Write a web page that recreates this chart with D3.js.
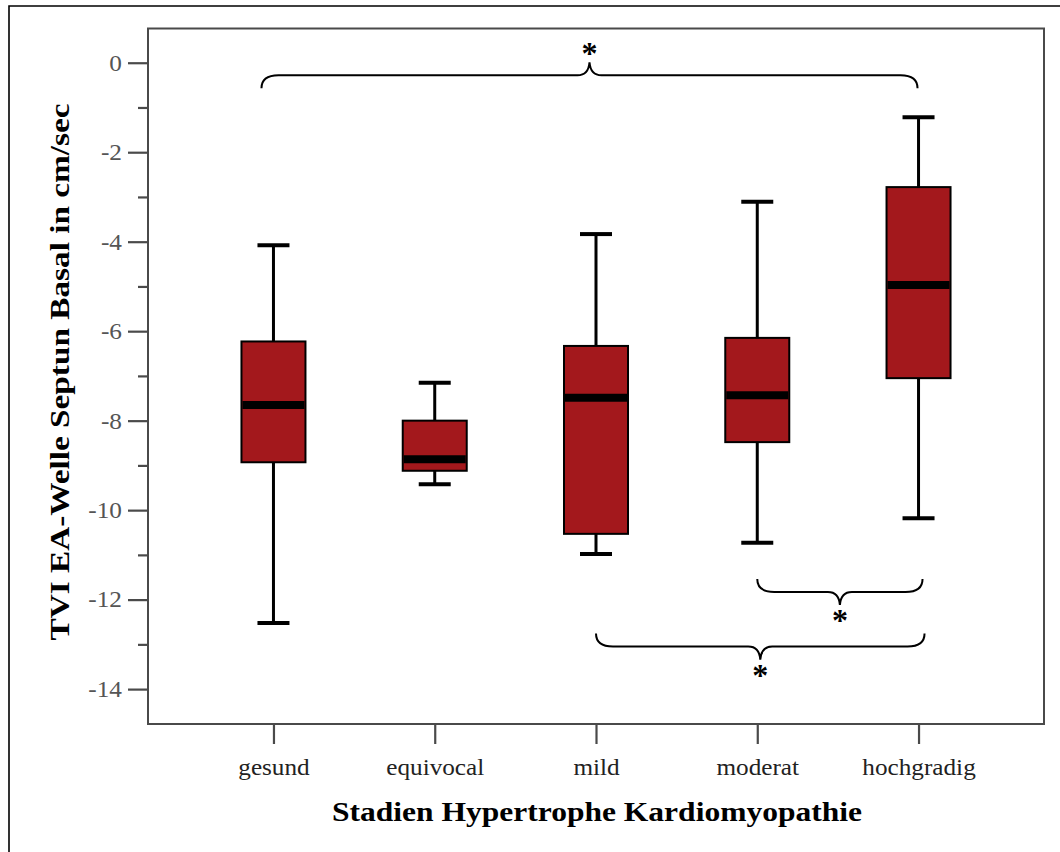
<!DOCTYPE html>
<html>
<head>
<meta charset="utf-8">
<script src="https://cdn.jsdelivr.net/npm/d3@7/dist/d3.min.js"></script>
<style>
  html, body { margin: 0; padding: 0; background: #fff; }
  svg { display: block; }
  text { font-family: "Liberation Serif", "Times New Roman", serif; }
</style>
</head>
<body>
<svg id="chart" width="1060" height="852"></svg>
<script>
// Groups (stages of hypertrophic cardiomyopathy)
const categories = ["gesund", "equivocal", "mild", "moderat", "hochgradig"];
// Box-plot summaries per group (cm/sec)
const whiskerHigh = [-4.08, -7.15, -3.83, -3.11, -1.22];
const q3          = [-6.23, -8.00, -6.33, -6.15, -2.78];
const median      = [-7.65, -8.86, -7.49, -7.43, -4.97];
const q1          = [-8.93, -9.12, -10.53, -8.48, -7.05];
const whiskerLow  = [-12.52, -9.42, -10.98, -10.73, -10.18];
// Axis ticks
const majorTicks = [0, -2, -4, -6, -8, -10, -12, -14];
const minorTicks = [-1, -3, -5, -7, -9, -11, -13];
// Significance brackets: group span and level of the bracket line
const brackets = [
  { from: "gesund", to: "hochgradig", level: -0.28, dir: "up",   dx0: -12, dx1: -1 },
  { from: "moderat", to: "hochgradig", level: -11.83, dir: "down", dx0: 0, dx1: 4 },
  { from: "mild", to: "hochgradig", level: -13.05, dir: "down", dx0: 0, dx1: 6 }
];

const svg = d3.select("#chart");
const plotLeft = 148, plotRight = 1044, plotTop = 28.5, plotBottom = 724;

const x = d3.scalePoint().domain(categories).range([plotLeft, plotRight]).padding(0.778);
const y = d3.scaleLinear().domain([-14.78, 0.765]).range([plotBottom, plotTop]);

// outer figure frame (top and left edges)
svg.append("path")
  .attr("d", `M9,852 L9,6 L1060,6`)
  .attr("fill", "none").attr("stroke", "#000").attr("stroke-width", 1.6);

// plot frame
svg.append("rect")
  .attr("x", plotLeft).attr("y", plotTop)
  .attr("width", plotRight - plotLeft).attr("height", plotBottom - plotTop)
  .attr("fill", "#fff").attr("stroke", "#4a4a4a").attr("stroke-width", 2);

// y axis
const yAxis = svg.append("g").attr("transform", `translate(${plotLeft},0)`)
  .call(d3.axisLeft(y).tickValues(majorTicks).tickSize(20).tickPadding(6).tickFormat(d3.format("d")));
yAxis.select(".domain").remove();
yAxis.selectAll(".tick line").attr("stroke", "#4a4a4a").attr("stroke-width", 2.2);
yAxis.selectAll(".tick text")
  .attr("font-size", 23).attr("fill", "#555").attr("font-family", "Liberation Serif")
  .text(d => d === 0 ? "0" : "-" + Math.abs(d))
  .each(function () {
    const w = this.getComputedTextLength();
    d3.select(this).attr("textLength", w * 1.1).attr("lengthAdjust", "spacingAndGlyphs");
  });

const yMinor = svg.append("g").attr("transform", `translate(${plotLeft},0)`)
  .call(d3.axisLeft(y).tickValues(minorTicks).tickSize(10).tickFormat(""));
yMinor.select(".domain").remove();
yMinor.selectAll(".tick line").attr("stroke", "#4a4a4a").attr("stroke-width", 2.2);

// x axis
const xAxis = svg.append("g").attr("transform", `translate(0,${plotBottom})`)
  .call(d3.axisBottom(x).tickSize(20).tickPadding(14));
xAxis.select(".domain").remove();
xAxis.selectAll(".tick line").attr("stroke", "#4a4a4a").attr("stroke-width", 2.2);
xAxis.selectAll(".tick text")
  .attr("font-size", 24).attr("fill", "#222").attr("font-family", "Liberation Serif")
  .each(function () {
    const w = this.getComputedTextLength();
    d3.select(this).attr("textLength", w * 1.05).attr("lengthAdjust", "spacingAndGlyphs");
  });

// boxes
const boxW = 64, capW = 32;
const data = categories.map((c, i) => ({
  c, hi: whiskerHigh[i], q3: q3[i], med: median[i], q1: q1[i], lo: whiskerLow[i]
}));
const g = svg.append("g").selectAll("g").data(data).join("g");
g.append("line")
  .attr("x1", d => x(d.c)).attr("x2", d => x(d.c))
  .attr("y1", d => y(d.hi)).attr("y2", d => y(d.lo))
  .attr("stroke", "#000").attr("stroke-width", 3);
g.append("line")
  .attr("x1", d => x(d.c) - capW / 2).attr("x2", d => x(d.c) + capW / 2)
  .attr("y1", d => y(d.hi)).attr("y2", d => y(d.hi))
  .attr("stroke", "#000").attr("stroke-width", 4);
g.append("line")
  .attr("x1", d => x(d.c) - capW / 2).attr("x2", d => x(d.c) + capW / 2)
  .attr("y1", d => y(d.lo)).attr("y2", d => y(d.lo))
  .attr("stroke", "#000").attr("stroke-width", 4);
g.append("rect")
  .attr("x", d => x(d.c) - boxW / 2).attr("width", boxW)
  .attr("y", d => y(d.q3)).attr("height", d => y(d.q1) - y(d.q3))
  .attr("fill", "#a3181c").attr("stroke", "#000").attr("stroke-width", 2);
g.append("line")
  .attr("x1", d => x(d.c) - boxW / 2 + 1).attr("x2", d => x(d.c) + boxW / 2 - 1)
  .attr("y1", d => y(d.med)).attr("y2", d => y(d.med))
  .attr("stroke", "#000").attr("stroke-width", 8);

// curly bracket path between xa and xb, line at yl, ends bending away from the cusp
function bracePath(xa, xb, yl, dir) {
  const s = dir === "up" ? 1 : -1;       // ends point down (s=1) or up (s=-1)
  const r = 13, h = 13, cw = 12;
  const xm = (xa + xb) / 2;
  const tip = yl - s * h;
  return [
    `M${xa},${yl + s * r}`,
    `Q${xa},${yl} ${xa + r + 4},${yl}`,
    `L${xm - cw},${yl}`,
    `Q${xm - 1},${yl} ${xm},${tip}`,
    `Q${xm + 1},${yl} ${xm + cw},${yl}`,
    `L${xb - r - 4},${yl}`,
    `Q${xb},${yl} ${xb},${yl + s * r}`
  ].join(" ");
}

const br = svg.append("g").selectAll("g").data(brackets).join("g");
br.append("path")
  .attr("d", d => bracePath(x(d.from) + d.dx0, x(d.to) + d.dx1, y(d.level), d.dir))
  .attr("fill", "none").attr("stroke", "#000").attr("stroke-width", 2);
br.append("text")
  .attr("x", d => (x(d.from) + d.dx0 + x(d.to) + d.dx1) / 2)
  .attr("y", d => d.dir === "up" ? y(d.level) - 11 : y(d.level) + 39)
  .attr("text-anchor", "middle")
  .attr("font-size", 32).attr("font-weight", "bold").attr("fill", "#000")
  .text("*");

// axis titles
const xt = svg.append("text")
  .attr("x", 597).attr("y", 821)
  .attr("text-anchor", "middle")
  .attr("font-size", 28).attr("font-weight", "bold").attr("fill", "#000")
  .text("Stadien Hypertrophe Kardiomyopathie");
xt.attr("textLength", 530).attr("lengthAdjust", "spacingAndGlyphs");

const yt = svg.append("text")
  .attr("transform", "translate(69,372) rotate(-90)")
  .attr("text-anchor", "middle")
  .attr("font-size", 28).attr("font-weight", "bold").attr("fill", "#000")
  .text("TVI EA-Welle Septun Basal in cm/sec");
yt.attr("textLength", 537).attr("lengthAdjust", "spacingAndGlyphs");
</script>
</body>
</html>
